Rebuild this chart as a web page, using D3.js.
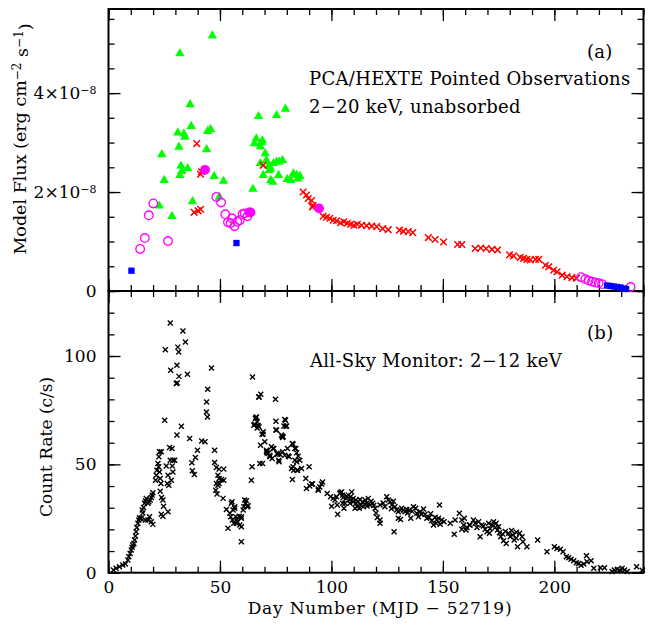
<!DOCTYPE html>
<html>
<head>
<meta charset="utf-8">
<script src="https://cdn.jsdelivr.net/npm/d3@7"></script>
<style>
  body { margin: 0; background: #fff; }
  svg text { font-family: "DejaVu Serif", serif; fill: #000; }
</style>
</head>
<body>
<div id="chart"></div>
<script>
"use strict";
let width = 648;
let height = 627;

// panel (a): PCA/HEXTE model flux, [day, flux in units of 1e-8 erg/cm2/s]
let greenTri = [[46.6,5.16],[32.0,4.80],[36.6,3.77],[37.1,3.33],[31.1,3.20],[33.8,3.18],[34.3,3.11],[44.5,3.23],
  [45.8,3.27],[31.6,2.91],[44.0,2.86],[23.9,2.76],[32.5,2.53],[32.9,2.42],[32.0,2.34],[35.5,2.48],[47.4,2.32],
  [51.6,2.22],[25.0,2.24],[37.7,1.81],[22.8,1.72],[28.5,1.51],[49.7,1.90],[64.8,2.06],[67.3,3.53],[75.4,3.55],
  [79.4,3.68],[66.3,3.08],[65.4,2.98],[68.1,2.92],[69.0,3.04],[68.6,3.00],[70.3,2.78],[68.1,2.58],[70.8,2.64],
  [71.8,2.53],[72.1,2.44],[74.0,2.58],[76.6,2.61],[75.4,2.61],[78.1,2.64],[69.4,2.34],[72.8,2.24],[73.7,2.20],
  [76.3,2.34],[80.2,2.26],[81.7,2.24],[82.9,2.37],[84.4,2.34],[85.9,2.32],[85.0,2.27],[72.8,2.47]];
let redCross = [[39.6,2.98],[41.3,2.36],[41.7,2.41],[38.4,1.59],[40.2,1.62],[41.3,1.65],[69.4,2.54],
  [87.3,2.00],[88.8,1.94],[89.6,1.87],[91.1,1.83],[91.8,1.73],[91.5,1.70],[96.3,1.51],[97.8,1.49],[99.3,1.47],
  [100.8,1.43],[102.3,1.42],[104.1,1.38],[105.6,1.40],[107.1,1.37],[108.6,1.35],[110.1,1.33],[111.6,1.35],
  [113.5,1.33],[115.8,1.32],[118.1,1.31],[120.3,1.30],[123.0,1.26],[125.5,1.24],[130.5,1.23],[132.3,1.21],
  [134.5,1.20],[136.5,1.18],[143.5,1.08],[146.5,1.04],[150.3,0.99],[156.6,0.94],[158.5,0.94],[164.5,0.86],
  [167.0,0.87],[169.4,0.86],[172.0,0.84],[174.5,0.83],[179.9,0.73],[181.7,0.71],[184.7,0.68],[186.2,0.66],
  [187.7,0.64],[189.2,0.63],[191.5,0.64],[193.0,0.64],[196.0,0.52],[197.5,0.49],[199.7,0.42],[201.2,0.39],
  [203.5,0.32],[205.7,0.29],[207.9,0.27],[209.9,0.26]];
let magentaOpen = [[14.2,0.85],[16.3,1.07],[18.1,1.53],[20.1,1.77],[26.7,1.01],[48.4,1.90],[50.5,1.79],
  [52.4,1.55],[53.6,1.39],[54.8,1.37],[55.4,1.47],[56.5,1.31],[57.8,1.40],[58.9,1.43],[60.1,1.55],[61.1,1.57],
  [62.3,1.51],[63.2,1.59],[212.0,0.28],[213.9,0.24],[215.4,0.21],[216.9,0.19],[218.4,0.17],[219.9,0.16],
  [221.4,0.14],[234.2,0.08]];
let magentaFilled = [[43.3,2.45],[63.7,1.59],[94.5,1.67]];
let blueSquare = [[10.3,0.41],[57.4,0.97],[223.7,0.11],[225.2,0.10],[226.7,0.09],[228.2,0.08],[229.7,0.07],
  [231.1,0.05],[232.2,0.04]];

// panel (b): ASM 2-12 keV count rate, [day, c/s]
let asm = [[2.2,1.2],[3.4,2.0],[4.9,2.8],[6.4,3.5],[7.6,4.0],[8.7,5.9],[9.1,7.4],[9.7,8.9],[10.2,10.5],
  [10.6,11.7],[10.9,12.8],[11.4,13.5],[11.7,15.1],[12.1,16.9],[12.4,18.9],[12.7,20.9],[13.2,22.8],[13.6,24.3],
  [13.9,25.3],[14.2,24.9],[14.7,25.2],[15.4,27.6],[15.1,28.9],[15.7,30.1],[16.2,32.0],[16.6,33.2],[16.9,34.3],
  [17.7,32.0],[18.1,32.7],[18.7,33.5],[19.2,34.7],[19.6,35.8],[19.9,36.9],[17.7,24.3],[18.4,25.8],[19.2,23.5],
  [19.9,22.3],[16.6,24.3],[21.1,42.7],[21.4,45.0],[21.7,47.3],[22.2,50.4],[22.6,53.5],[22.9,55.8],[23.7,55.8],
  [22.5,48.9],[22.9,46.5],[23.2,43.5],[23.5,41.2],[23.2,37.6],[23.8,34.7],[24.4,33.5],[24.7,30.7],[23.7,27.0],
  [24.4,26.1],[25.2,70.4],[25.5,102.9],[27.7,115.2],[27.9,93.4],[25.9,49.2],[26.7,45.0],[26.4,41.2],[27.1,40.4],
  [26.7,28.1],[27.4,57.8],[28.5,57.3],[27.7,51.9],[28.9,51.9],[29.7,51.9],[28.6,49.2],[28.9,46.5],[28.2,42.7],
  [30.7,63.5],[30.7,95.7],[31.1,104.1],[31.5,101.8],[30.9,87.6],[31.6,90.6],[30.4,87.3],[32.7,67.6],[33.4,111.5],
  [34.5,106.5],[35.4,91.6],[36.4,61.9],[37.4,50.7],[37.6,47.0],[38.5,45.3],[39.0,53.2],[39.9,56.5],[41.8,60.8],
  [43.3,60.4],[43.9,74.2],[44.4,71.9],[44.0,78.8],[44.5,84.7],[46.2,94.5],[47.6,56.5],[47.6,50.9],[48.4,48.6],
  [49.6,47.8],[51.7,47.8],[49.1,45.0],[49.6,43.5],[50.7,43.0],[48.4,41.2],[48.1,38.1],[48.7,36.3],[49.1,40.4],
  [49.6,41.2],[51.7,42.7],[51.4,34.3],[52.9,29.2],[53.6,20.5],[54.4,27.4],[54.8,25.8],[55.4,32.7],[55.9,28.9],
  [56.6,29.7],[55.6,24.3],[56.2,22.8],[57.1,25.8],[57.4,24.3],[57.8,23.5],[56.6,30.4],[58.6,26.1],[58.9,22.0],
  [59.6,21.2],[59.6,14.3],[59.6,25.1],[60.4,28.9],[60.7,30.4],[61.4,32.0],[61.9,33.2],[62.3,30.4],[62.6,30.9],
  [64.1,42.7],[64.4,48.9],[64.6,90.3],[65.2,68.1],[65.9,71.2],[66.4,71.9],[66.7,69.6],[67.4,81.1],[68.3,82.4],
  [67.5,67.3],[68.2,58.8],[68.9,63.9],[69.4,65.0],[70.1,60.4],[67.9,50.4],[69.1,50.4],[70.9,55.8],[71.6,55.0],
  [72.4,54.2],[73.1,58.1],[73.8,57.3],[74.9,80.0],[75.1,69.9],[75.4,65.8],[76.1,55.0],[76.4,51.9],
  [67.6,81.1],[66.1,71.6],[65.6,68.5],[67.1,68.1],[66.7,66.8],[69.3,63.9],[79.4,70.4],[78.7,67.7],[79.9,67.7],
  [75.1,65.8],[77.9,63.0],[78.1,62.4],[70.9,56.5],[71.1,55.3],[73.4,52.7],[75.8,54.7],[76.9,54.7],[78.1,55.8],
  [79.1,54.2],[80.3,57.3],[81.0,53.5],[82.5,59.6],[83.6,57.3],[84.4,55.3],[85.1,53.8],[83.6,51.9],[84.4,51.2],
  [85.8,51.9],[82.1,48.1],[82.8,48.9],[84.8,47.3],[86.6,48.1],[90.0,48.9],[82.5,43.0],[88.5,43.5],[88.8,38.9],
  [90.3,40.0],[91.5,40.9],[94.1,38.1],[94.8,39.6],[96.0,41.9],[95.6,40.9],[98.1,36.6],[99.6,35.0],[100.8,34.3],
  [102.6,31.2],[102.3,35.0],[103.8,36.6],[104.6,37.3],[105.3,34.7],[106.8,35.3],[107.6,35.8],[108.6,35.0],
  [109.8,34.3],[111.0,33.5],[112.0,32.7],[106.1,32.0],[108.3,32.0],[55.1,32.0],[61.1,33.5],[59.6,25.8],[57.4,22.8],
  [79.1,70.7],[79.6,67.6],[77.6,63.5],[78.3,62.7],[74.2,57.3],[72.4,53.5],[75.6,55.0],[76.5,51.2],[80.6,53.9],
  [82.8,59.3],[84.0,57.3],[83.1,47.3],[84.6,47.3],[91.1,40.9],[94.1,38.6],[100.1,30.7],[101.6,33.5],[102.8,27.0],
  [104.1,37.0],[105.0,35.8],[105.0,32.0],[105.6,29.7],[106.5,34.3],[109.1,37.3],[108.3,33.5],[109.8,32.7],
  [111.0,32.0],[111.6,30.4],[112.8,33.8],[114.0,32.7],[115.1,33.5],[115.8,32.0],[116.5,34.3],[117.3,31.2],
  [112.5,29.7],[114.3,30.4],[110.6,29.7],[119.6,29.7],[120.0,27.6],[120.6,25.5],[121.8,24.3],[121.8,22.8],
  [118.5,32.0],[121.8,31.2],[124.0,30.4],[124.8,35.0],[125.5,33.5],[126.3,32.7],[127.1,31.2],[128.1,18.9],
  [128.5,30.4],[129.3,28.9],[130.0,28.1],[130.8,28.9],[131.5,29.7],[132.3,28.9],[130.0,25.1],[131.0,24.6],
  [133.0,28.1],[133.8,29.2],[135.0,28.9],[135.6,25.1],[136.8,30.4],[137.8,29.7],[138.3,27.4],[139.0,25.8],
  [139.8,28.1],[141.3,29.4],[142.0,27.0],[142.8,25.1],[143.9,25.5],[145.0,24.0],[145.8,22.0],[147.3,24.3],
  [148.0,25.1],[148.8,22.4],[148.5,31.2],[149.5,24.3],[153.3,22.8],[155.1,17.7],[155.5,24.3],[157.4,27.4],
  [158.5,20.0],[159.6,25.1],[160.8,20.9],[161.9,22.0],[159.3,22.0],[160.4,19.7],[158.5,24.3],[162.2,22.0],
  [163.7,24.3],[164.5,22.8],[165.3,20.9],[166.0,23.5],[166.7,16.6],[167.5,22.0],[168.2,21.5],[169.0,20.0],
  [169.8,18.9],[170.5,22.8],[170.9,18.2],[172.0,22.0],[172.7,23.5],[173.5,20.9],[173.9,22.8],[174.5,19.7],
  [175.4,18.4],[176.0,16.6],[177.2,14.7],[178.4,13.5],[176.9,17.8],[179.5,18.2],[180.2,16.6],[181.4,17.4],
  [182.0,15.1],[182.9,16.0],[183.5,12.0],[184.4,18.2],[185.5,16.6],[185.9,14.3],[187.7,12.0],[192.5,15.1],
  [196.7,9.7],[200.0,12.0],[201.2,11.2],[202.7,10.8],[203.9,9.7],[205.4,7.4],[206.4,6.9],[207.5,6.2],[208.7,5.5],
  [209.9,4.6],[210.9,4.3],[212.0,3.4],[213.2,4.0],[214.4,7.8],[214.7,5.1],[216.5,5.5],[217.7,2.0],[220.7,2.3],
  [222.5,2.3],[225.9,0.5],[226.9,1.2],[228.2,1.6],[229.4,1.2],[230.4,2.0],[231.5,1.2],[232.7,0.5],[236.9,2.8],
  [239.4,1.1],[113.2,31.2],[114.8,31.6],[116.0,30.8],[117.8,33.0],[119.0,31.0],[123.2,32.2],[126.9,29.5],
  [127.8,33.0],[134.2,27.6],[136.2,28.3],[140.5,27.0],[144.5,27.2],[146.5,25.6],[147.0,22.8],[150.5,23.5],
  [171.2,20.3],[175.0,21.2],[178.0,19.0],[180.8,19.5],[183.0,18.7]];

let xMajor = [0, 50, 100, 150, 200];
let xMinor = d3.range(0, 241, 10);
let fluxMajor = [0, 2, 4];
let fluxMinor = d3.range(0, 5.71, 0.5);
let rateMajor = [0, 50, 100];
let rateMinor = d3.range(0, 131, 10);

let left = 108.5, right = 643.5;
let topA = 9, botA = 291, topB = 291, botB = 572.7;

let xScale = d3.scaleLinear().domain([0, 240]).range([left, right]);
let yFlux = d3.scaleLinear().domain([0, 5.7]).range([botA, topA]);
let yRate = d3.scaleLinear().domain([0, 130]).range([botB, topB]);

let svg = d3.select("#chart").append("svg")
  .attr("width", width)
  .attr("height", height);

// frame + inward ticks on all four sides of a panel
function panelAxes(yScale, yMajor, yMinor, y0, y1) {
  let g = svg.append("g").attr("class", "axis");
  let ticks = [
    [d3.axisBottom(xScale), "translate(0," + y1 + ")", xMajor, xMinor],
    [d3.axisTop(xScale), "translate(0," + y0 + ")", xMajor, xMinor],
    [d3.axisLeft(yScale), "translate(" + left + ",0)", yMajor, yMinor],
    [d3.axisRight(yScale), "translate(" + right + ",0)", yMajor, yMinor]
  ];
  ticks.forEach(function(t) {
    g.append("g").attr("transform", t[1])
      .call(t[0].tickValues(t[3]).tickSizeInner(-6).tickSizeOuter(0).tickFormat(""));
    g.append("g").attr("transform", t[1])
      .call(t[0].tickValues(t[2]).tickSizeInner(-12).tickSizeOuter(0).tickFormat(""));
  });
  g.selectAll(".domain").remove();
  g.selectAll("line").attr("stroke", "#000").attr("stroke-width", 1.3);
  g.append("rect")
    .attr("x", left).attr("y", y0)
    .attr("width", right - left).attr("height", y1 - y0)
    .attr("fill", "none").attr("stroke", "#000").attr("stroke-width", 2);
}
panelAxes(yFlux, fluxMajor, fluxMinor, topA, botA);
panelAxes(yRate, rateMajor, rateMinor, topB, botB);

// tick labels
svg.append("g")
  .attr("transform", "translate(0," + botB + ")")
  .call(d3.axisBottom(xScale).tickValues(xMajor).tickSize(0).tickPadding(8))
  .call(g => g.select(".domain").remove())
  .selectAll("text").attr("font-size", 17).attr("font-family", "DejaVu Serif");

svg.append("g")
  .attr("transform", "translate(" + left + ",0)")
  .call(d3.axisLeft(yRate).tickValues(rateMajor).tickSize(0).tickPadding(12))
  .call(g => g.select(".domain").remove())
  .selectAll("text").attr("font-size", 17).attr("font-family", "DejaVu Serif");

let fluxLab = svg.append("g")
  .attr("transform", "translate(" + left + ",0)")
  .call(d3.axisLeft(yFlux).tickValues(fluxMajor).tickSize(0).tickPadding(12)
    .tickFormat(d => d === 0 ? "0" : d + "×10"))
  .call(g => g.select(".domain").remove());
fluxLab.selectAll("text").attr("font-size", 17).attr("font-family", "DejaVu Serif")
  .each(function(d) {
    if (d !== 0) {
      d3.select(this).append("tspan").attr("dy", "-0.45em").attr("font-size", 11).text("−8");
    }
  });

// markers
let times = d3.symbol().type(d3.symbolTimes);
function addMarks(data, yScale, path, attrs) {
  let sel = svg.append("g").selectAll("path").data(data).enter().append("path")
    .attr("transform", d => "translate(" + xScale(d[0]) + "," + yScale(d[1]) + ")")
    .attr("d", path);
  Object.keys(attrs).forEach(k => sel.attr(k, attrs[k]));
}
addMarks(greenTri, yFlux, d3.symbol().type(d3.symbolTriangle).size(38)(), {fill: "#00ff00"});
addMarks(redCross, yFlux, times.size(30)(), {fill: "none", stroke: "#ff0000", "stroke-width": 1.5});
addMarks(magentaOpen, yFlux, d3.symbol().type(d3.symbolCircle).size(58)(),
  {fill: "none", stroke: "#ff00ff", "stroke-width": 1.3});
addMarks(magentaFilled, yFlux, d3.symbol().type(d3.symbolCircle).size(75)(), {fill: "#ff00ff"});
addMarks(blueSquare, yFlux, d3.symbol().type(d3.symbolSquare).size(40)(), {fill: "#0000ff"});
addMarks(asm, yRate, times.size(18)(), {fill: "none", stroke: "#000", "stroke-width": 1.4});

// axis titles
svg.append("text")
  .attr("x", 380).attr("y", 614)
  .attr("text-anchor", "middle").attr("font-size", 17)
  .attr("letter-spacing", 0.8)
  .text("Day Number (MJD − 52719)");

let fluxTitle = svg.append("text")
  .attr("transform", "translate(26,139) rotate(-90)")
  .attr("text-anchor", "middle").attr("font-size", 17.5);
fluxTitle.append("tspan").text("Model Flux (erg cm");
fluxTitle.append("tspan").attr("dy", "-0.45em").attr("font-size", 12).text("−2");
fluxTitle.append("tspan").attr("dy", "0.45em").text(" s");
fluxTitle.append("tspan").attr("dy", "-0.45em").attr("font-size", 12).text("−1");
fluxTitle.append("tspan").attr("dy", "0.45em").text(")");

svg.append("text")
  .attr("transform", "translate(52,447) rotate(-90)")
  .attr("text-anchor", "middle").attr("font-size", 17)
  .text("Count Rate (c/s)");

// annotations
let notes = [
  ["(a)", 587, 58],
  ["PCA/HEXTE Pointed Observations", 309, 85],
  ["2−20 keV, unabsorbed", 309, 113],
  ["(b)", 587, 339],
  ["All-Sky Monitor: 2−12 keV", 310, 367]
];
svg.append("g").selectAll("text").data(notes).enter().append("text")
  .attr("x", d => d[1]).attr("y", d => d[2])
  .attr("font-size", 18)
  .attr("letter-spacing", 0.3)
  .text(d => d[0]);
</script>
</body>
</html>
